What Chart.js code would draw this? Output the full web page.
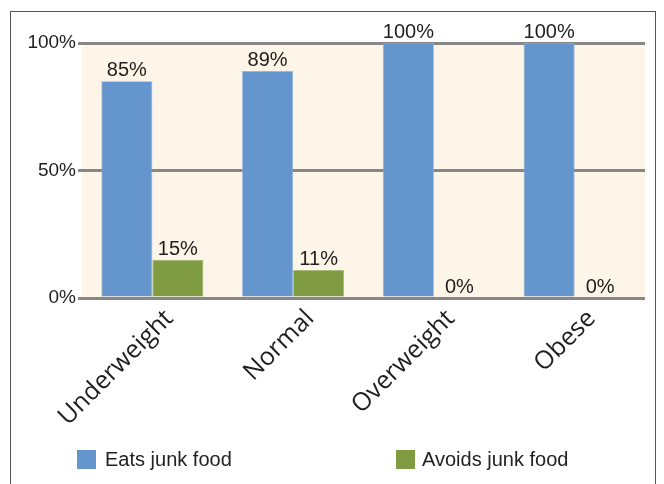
<!DOCTYPE html>
<html>
<head>
<meta charset="utf-8">
<script src="https://cdn.jsdelivr.net/npm/chart.js@4"></script>
<style>
  html, body { margin: 0; padding: 0; background: #fff; }
  #wrap { position: relative; width: 664px; height: 484px; overflow: hidden; font-family: "Liberation Sans", Arial, sans-serif; }
  #frame { position: absolute; left: 10px; top: 11px; width: 644px; height: 500px; border: 1.5px solid #555; }
  canvas { position: absolute; left: 0; top: 0; }
  .lg { position: absolute; top: 450px; height: 19px; font-size: 20px; color: #222; white-space: nowrap; }
  .lg i { position: absolute; left: 0; top: 0; width: 19px; height: 19px; }
  .lg span { position: absolute; top: -2px; line-height: 23px; }
</style>
</head>
<body>
<div id="wrap">
  <div id="frame"></div>
  <canvas id="chart" width="664" height="484"></canvas>
  <div id="legend"></div>
</div>
<script>
// junk food habits by weight group
const categories = ['Underweight', 'Normal', 'Overweight', 'Obese'];
const eatsJunk = [85, 89, 100, 100];
const avoidsJunk = [15, 11, 0, 0];
const yTicks = [0, 50, 100];

// cream plot background
const plotBg = {
    id: 'plotBg',
    beforeDraw(chart) {
        const { ctx, chartArea } = chart;
        ctx.save();
        ctx.fillStyle = '#fdf5e7';
        ctx.fillRect(chartArea.left, chartArea.top, chartArea.right - chartArea.left, chartArea.bottom - chartArea.top);
        ctx.restore();
    }
};

// value labels above bars
const valueLabels = {
    id: 'valueLabels',
    afterDatasetsDraw(chart) {
        const ctx = chart.ctx;
        ctx.save();
        ctx.font = '20px "Liberation Sans", Arial, sans-serif';
        ctx.fillStyle = '#1e1e1e';
        ctx.textAlign = 'center';
        ctx.textBaseline = 'alphabetic';
        chart.data.datasets.forEach((ds, i) => {
            chart.getDatasetMeta(i).data.forEach((bar, j) => {
                ctx.fillText(ds.data[j] + '%', bar.x, bar.y - 5);
            });
        });
        ctx.restore();
    }
};

const chart = new Chart(document.getElementById('chart'), {
    type: 'bar',
    data: {
        labels: categories,
        datasets: [
            {
                label: 'Eats junk food',
                data: eatsJunk,
                backgroundColor: '#6595cd',
                borderColor: '#8fb2dc',
                borderWidth: 0.8,
                categoryPercentage: 0.725,
                barPercentage: 1
            },
            {
                label: 'Avoids junk food',
                data: avoidsJunk,
                backgroundColor: '#7f9c42',
                borderColor: '#a2b875',
                borderWidth: 0.8,
                categoryPercentage: 0.725,
                barPercentage: 1
            }
        ]
    },
    options: {
        responsive: false,
        animation: false,
        layout: { padding: { left: 0, right: 19, top: 43, bottom: 58 } },
        plugins: {
            tooltip: { enabled: false },
            legend: { display: false }
        },
        scales: {
            x: {
                grid: { display: false },
                border: { display: false },
                ticks: {
                    minRotation: 45,
                    maxRotation: 45,
                    labelOffset: 17,
                    padding: -2,
                    color: '#1e1e1e',
                    font: { family: '"Open Sans", sans-serif', size: 25 }
                },
                afterFit(scale) { scale.height = 128; }
            },
            y: {
                min: 0,
                max: 100,
                afterBuildTicks(scale) { scale.ticks = yTicks.map(v => ({ value: v })); },
                grid: { color: '#878787', lineWidth: 3, tickLength: 4 },
                border: { display: false },
                ticks: {
                    padding: 2,
                    color: '#1e1e1e',
                    font: { family: '"Liberation Sans", Arial, sans-serif', size: 19 },
                    callback: v => v + '%'
                },
                afterFit(scale) { scale.width = 82; }
            }
        }
    },
    plugins: [plotBg, valueLabels]
});

// legend as html, built from the datasets
const legendX = [77, 396];
const legendEl = document.getElementById('legend');
chart.data.datasets.forEach((ds, i) => {
    const item = document.createElement('div');
    item.className = 'lg';
    item.style.left = legendX[i] + 'px';
    item.innerHTML = '<i style="background:' + ds.backgroundColor + '"></i><span style="left:' + (i ? 26 : 28) + 'px">' + ds.label + '</span>';
    legendEl.appendChild(item);
});
</script>
</body>
</html>
